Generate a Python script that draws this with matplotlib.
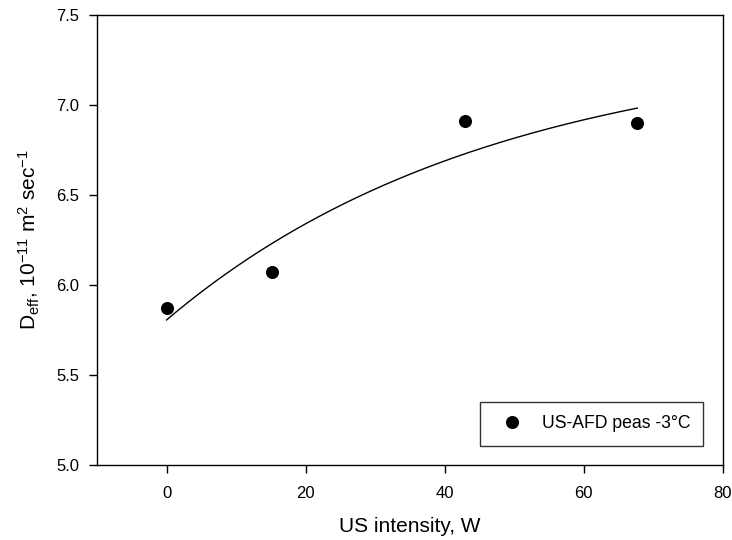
import matplotlib
matplotlib.use("Agg")
import matplotlib.pyplot as plt
import numpy as np

plt.rcParams['font.family'] = ['Liberation Sans', 'DejaVu Sans']
plt.rcParams['mathtext.fontset'] = 'custom'
plt.rcParams['mathtext.rm'] = 'Liberation Sans'
plt.rcParams['mathtext.it'] = 'Liberation Sans:italic'

# measured points (US intensity, W  vs  Deff)
us_power = [0.0, 15.2, 42.9, 67.7]
deff = [5.87, 6.07, 6.91, 6.90]
series_label = 'US-AFD peas -3°C'

x_ticks = [0, 20, 40, 60, 80]
y_ticks = [5.0, 5.5, 6.0, 6.5, 7.0, 7.5]

# exponential rise to max fit: y = y0 + a*(1 - exp(-b*x))
x = np.array(us_power)
y = np.array(deff)
best = None
for b in np.linspace(0.001, 0.2, 4000):
    A = np.column_stack([np.ones_like(x), 1 - np.exp(-b * x)])
    coef, *_ = np.linalg.lstsq(A, y, rcond=None)
    sse = np.sum((A @ coef - y) ** 2)
    if best is None or sse < best[0]:
        best = (sse, b, coef)
_, b_fit, (y0_fit, a_fit) = best
xf = np.linspace(x.min(), x.max(), 200)
yf = y0_fit + a_fit * (1 - np.exp(-b_fit * xf))

fig = plt.figure(figsize=(7.32, 5.4), dpi=100)
ax = fig.add_axes([0.1325, 0.139, 0.855, 0.833])

ax.plot(xf, yf, color='black', linewidth=1.0)
ax.plot(us_power, deff, 'o', color='black', markersize=8.4, label=series_label)

ax.set_xlim(-10, 80)
ax.set_ylim(5.0, 7.5)
ax.set_xticks(x_ticks)
ax.set_yticks(y_ticks)
ax.set_yticklabels([f'{v:.1f}' for v in y_ticks])
ax.tick_params(direction='out', length=6, width=1, labelsize=12,
               top=False, right=False)
ax.tick_params(axis='x', pad=9)
ax.tick_params(axis='y', pad=7)
for s in ax.spines.values():
    s.set_linewidth(1.0)

ax.set_xlabel('US intensity, W', fontsize=15, labelpad=12)
ax.set_ylabel(r'D$_{\rm eff}$, 10$^{-11}$ m$^2$ sec$^{-1}$', fontsize=15, labelpad=10)

leg = ax.legend(loc='lower right', fontsize=12.7, frameon=True, fancybox=False,
                edgecolor='black', borderaxespad=1.1, handletextpad=0.66,
                borderpad=0.75, handlelength=2.1)
leg.get_frame().set_linewidth(1.0)

plt.savefig('out.png', dpi=100)
